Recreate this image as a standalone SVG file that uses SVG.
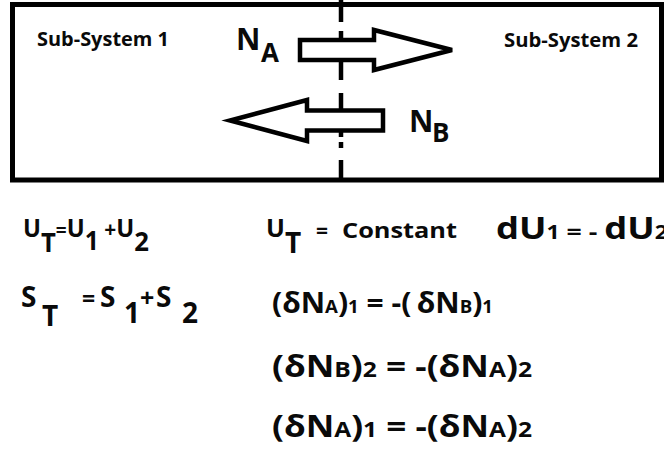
<svg xmlns="http://www.w3.org/2000/svg" width="664" height="459" viewBox="0 0 664 459">
<style>
text{font-family:"Open Sans","Noto Sans","Liberation Sans",sans-serif;font-weight:bold;fill:#0a0a0a}
.box{fill:none;stroke:#000;stroke-width:5}
.dash{stroke:#000;stroke-width:4.5}
.arrow{fill:#fff;stroke:#000;stroke-width:4.5;stroke-linejoin:miter}
.sm{font-size:18px}
.sm3{font-size:21px}
</style>
<rect width="664" height="459" fill="#fff"/>
<g id="system-box">
<rect class="box" x="12.5" y="4.5" width="649" height="175.5"/>
</g>
<g id="partition">
<line class="dash" x1="341" y1="0" x2="341" y2="22"/>
<line class="dash" x1="341" y1="31" x2="341" y2="40"/>
<line class="dash" x1="341" y1="60" x2="341" y2="80"/>
<line class="dash" x1="341" y1="93" x2="341" y2="110"/>
<line class="dash" x1="341" y1="131" x2="341" y2="137"/>
<line class="dash" x1="341" y1="142" x2="341" y2="148"/>
<line class="dash" x1="341" y1="160" x2="341" y2="180"/>
</g>
<g id="connectors">
<polygon id="arrow-NA" class="arrow" points="300,40 374,40 374,30 452,50 374,70 374,60 300,60"/>
<polygon id="arrow-NB" class="arrow" points="383,110.5 307,110.5 307,100 230,120.5 307,141 307,130.5 383,130.5"/>
</g>
<g id="sub-system-1"><text x="37" y="46" font-size="19.5" textLength="132" lengthAdjust="spacingAndGlyphs">Sub-System 1</text></g>
<g id="sub-system-2"><text x="504" y="47" font-size="19.5" textLength="134" lengthAdjust="spacingAndGlyphs">Sub-System 2</text></g>
<g id="label-NA"><text x="236" y="50" font-size="30">N</text><text x="261" y="62" font-size="26">A</text></g>
<g id="label-NB"><text x="409" y="132" font-size="30">N</text><text x="432" y="142" font-size="26">B</text></g>
<g id="eq-U">
<text x="23" y="237" font-size="25" textLength="126" lengthAdjust="spacingAndGlyphs">U<tspan dy="15" font-size="27">T</tspan><tspan dy="-15" font-size="20">=</tspan>U<tspan dy="13" font-size="26">1</tspan><tspan dy="-13" font-size="22"> +</tspan>U<tspan dy="14" font-size="27">2</tspan></text>
</g>
<g id="eq-UT-const">
<text x="266" y="237" font-size="25">U</text><text x="285" y="253" font-size="28">T</text>
<text x="316" y="238" font-size="21">=</text>
<text x="342" y="238" font-size="22" textLength="115" lengthAdjust="spacingAndGlyphs">Constant</text>
</g>
<g id="eq-dU">
<text x="496" y="239" font-size="30" textLength="172" lengthAdjust="spacingAndGlyphs">dU<tspan font-size="19">1</tspan><tspan font-size="22"> = - </tspan>dU<tspan font-size="19">2</tspan></text>
</g>
<g id="eq-S">
<text x="21" y="307" font-size="28">S</text><text x="42" y="326" font-size="28">T</text>
<text x="82" y="307" font-size="23">=</text>
<text x="100" y="307" font-size="28">S</text><text x="124" y="323" font-size="28">1</text>
<text x="140" y="307" font-size="25">+</text>
<text x="156" y="307" font-size="28">S</text><text x="182" y="323" font-size="28">2</text>
</g>
<g id="eq-2"><text x="272" y="313" font-size="29" textLength="221" lengthAdjust="spacingAndGlyphs">(δN<tspan class="sm">A</tspan>)<tspan class="sm">1</tspan> = -(<tspan font-size="20"> </tspan>δN<tspan class="sm">B</tspan>)<tspan class="sm">1</tspan></text></g>
<g id="eq-3"><text x="272" y="377" font-size="30" textLength="260" lengthAdjust="spacingAndGlyphs">(δN<tspan class="sm3">B</tspan>)<tspan class="sm3">2</tspan> = -(δN<tspan class="sm3">A</tspan>)<tspan class="sm3">2</tspan></text></g>
<g id="eq-4"><text x="272" y="437" font-size="30" textLength="260" lengthAdjust="spacingAndGlyphs">(δN<tspan class="sm3">A</tspan>)<tspan class="sm3">1</tspan> = -(δN<tspan class="sm3">A</tspan>)<tspan class="sm3">2</tspan></text></g>
</svg>
